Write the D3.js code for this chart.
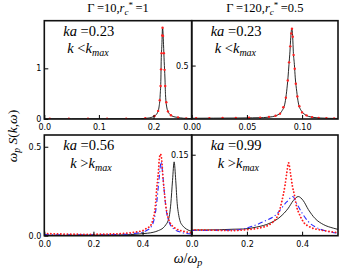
<!DOCTYPE html>
<html>
<head>
<meta charset="utf-8">
<script src="https://cdn.jsdelivr.net/npm/d3@7"></script>
<style>
  body { margin: 0; background: #fff; }
  .tick text { font-family: "DejaVu Sans", sans-serif; font-size: 8px; fill: #000; }
  .math { font-family: "Liberation Serif", "DejaVu Serif", serif; fill: #000; }
</style>
</head>
<body>
<svg id="chart" width="341" height="271"></svg>
<script>
// ---- data ----
// top left: ka=0.23, Gamma=10
let tlX = [0, 0.05, 0.1, 0.15, 0.1756, 0.19, 0.197, 0.201, 0.205, 0.2075, 0.2099, 0.2123, 0.2136, 0.2141, 0.2154, 0.2166,
           0.2184, 0.2196, 0.221, 0.222, 0.2246, 0.2275, 0.2306, 0.236, 0.243, 0.255, 0.27];
let tlY = [0.004, 0.004, 0.005, 0.006, 0.008, 0.018, 0.034, 0.055, 0.085, 0.13, 0.217, 0.48, 0.81, 1.14, 1.466, 1.815,
           1.466, 1.14, 0.81, 0.48, 0.217, 0.13, 0.085, 0.05, 0.034, 0.015, 0.008];
let tlDotX = [0.01, 0.045, 0.08, 0.115, 0.15, 0.185, 0.202, 0.2085, 0.2115, 0.213, 0.2139, 0.2148, 0.216, 0.2166,
              0.2175, 0.219, 0.2203, 0.2215, 0.2235, 0.2265, 0.232, 0.245, 0.26];
let tlDotY = [0.004, 0.004, 0.005, 0.006, 0.006, 0.015, 0.06, 0.16, 0.37, 0.65, 0.98, 1.3, 1.65, 1.8,
              1.64, 1.3, 0.97, 0.65, 0.33, 0.15, 0.075, 0.03, 0.012];

// top right: ka=0.23, Gamma=120
let trX = [0, 0.02, 0.04, 0.055, 0.0649, 0.0705, 0.0755, 0.079, 0.0815, 0.0845, 0.086, 0.0872, 0.0881, 0.089, 0.0897, 0.0906,
           0.0915, 0.092, 0.093, 0.0938, 0.0951, 0.0966, 0.0996, 0.1025, 0.1056, 0.116, 0.125, 0.1325];
let trY = [0.007, 0.008, 0.009, 0.011, 0.013, 0.018, 0.028, 0.045, 0.072, 0.15, 0.26, 0.385, 0.51, 0.635, 0.76, 0.847,
           0.76, 0.635, 0.51, 0.385, 0.26, 0.15, 0.072, 0.042, 0.025, 0.0094, 0.006, 0.005];
let trDotX = [0.004, 0.016, 0.028, 0.04, 0.052, 0.062, 0.07, 0.076, 0.08, 0.083, 0.0853, 0.087, 0.0882, 0.0893, 0.0902, 0.0908,
              0.0915, 0.0923, 0.0933, 0.0943, 0.0957, 0.0975, 0.1, 0.104, 0.109, 0.115, 0.122, 0.129];
let trDotY = [0.008, 0.008, 0.009, 0.009, 0.011, 0.013, 0.02, 0.03, 0.05, 0.11, 0.2, 0.36, 0.53, 0.68, 0.8, 0.845,
              0.77, 0.6, 0.47, 0.33, 0.21, 0.12, 0.062, 0.034, 0.018, 0.01, 0.007, 0.006];

// bottom left: ka=0.56
let blBlackX = [0, 0.1, 0.2, 0.3, 0.35, 0.389, 0.42, 0.443, 0.465, 0.484, 0.495, 0.504, 0.51, 0.515, 0.522, 0.5285,
                0.535, 0.541, 0.546, 0.552, 0.562, 0.572, 0.585, 0.6];
let blBlackY = [0.002, 0.002, 0.003, 0.004, 0.006, 0.01, 0.014, 0.019, 0.029, 0.044, 0.062, 0.085, 0.12, 0.18, 0.311, 0.415,
                0.311, 0.18, 0.125, 0.085, 0.058, 0.044, 0.032, 0.025];
let blRedX = [0, 0.05, 0.1, 0.15, 0.2, 0.25, 0.3, 0.35, 0.38, 0.4, 0.415, 0.4325, 0.443, 0.45, 0.454, 0.457, 0.461, 0.465, 0.4675,
              0.473, 0.478, 0.481, 0.484, 0.488, 0.4935, 0.5, 0.511, 0.531, 0.565, 0.6];
let blRedY = [0.012, 0.01, 0.009, 0.008, 0.008, 0.009, 0.011, 0.016, 0.022, 0.028, 0.04, 0.057, 0.095, 0.142, 0.198, 0.255, 0.311, 0.368, 0.425,
              0.459, 0.425, 0.368, 0.311, 0.255, 0.18, 0.123, 0.076, 0.044, 0.025, 0.017];
let blBlueX = [0, 0.1, 0.2, 0.3, 0.35, 0.4, 0.42, 0.435, 0.445, 0.452, 0.458, 0.463, 0.468, 0.4757,
               0.481, 0.485, 0.489, 0.494, 0.5, 0.51, 0.53, 0.56, 0.6];
let blBlueY = [0.006, 0.005, 0.005, 0.007, 0.011, 0.02, 0.032, 0.05, 0.08, 0.125, 0.19, 0.26, 0.33, 0.415,
               0.36, 0.3, 0.24, 0.17, 0.115, 0.07, 0.035, 0.018, 0.01];

// bottom right: ka=0.99
let brBlackX = [0, 0.05, 0.1, 0.15, 0.187, 0.2355, 0.284, 0.32, 0.35, 0.368, 0.386, 0.404, 0.4225, 0.447, 0.477, 0.513, 0.53];
let brBlackY = [0.0105, 0.0107, 0.011, 0.012, 0.0124, 0.016, 0.0234, 0.0346, 0.051, 0.065, 0.0725, 0.065, 0.0485, 0.0318, 0.0207, 0.014, 0.0117];
let brRedX = [0, 0.05, 0.1, 0.139, 0.17, 0.199, 0.23, 0.26, 0.28, 0.296, 0.306, 0.314, 0.322, 0.332, 0.338, 0.344, 0.351,
              0.358, 0.3645, 0.372, 0.38, 0.39, 0.404, 0.429, 0.465, 0.495, 0.53];
let brRedY = [0.0107, 0.0105, 0.01, 0.0095, 0.01, 0.011, 0.013, 0.016, 0.02, 0.026, 0.032, 0.04, 0.054, 0.0764, 0.093, 0.115, 0.135,
              0.115, 0.093, 0.076, 0.054, 0.04, 0.026, 0.016, 0.0107, 0.008, 0.0055];
let brBlueX = [0, 0.05, 0.1, 0.163, 0.211, 0.26, 0.308, 0.344, 0.366, 0.38, 0.3986, 0.4225, 0.453, 0.489, 0.525, 0.53];
let brBlueY = [0.0095, 0.0097, 0.01, 0.0107, 0.016, 0.026, 0.04, 0.0625, 0.0725, 0.06, 0.043, 0.026, 0.015, 0.0084, 0.005, 0.0048];

// tick values
let tlXTicks = [0, 0.1, 0.2], tlYTicks = [0, 1];
let trXTicks = [0, 0.05, 0.1], trYTicks = [0.5];
let blXTicks = [0, 0.2, 0.4], blYTicks = [0, 0.5];
let brXTicks = [0, 0.2, 0.4], brYTicks = [0.15];

let kaLabels = ["0.23", "0.23", "0.56", "0.99"];
let kSigns = ["<", "<", ">", ">"];

// ---- layout ----
let svg = d3.select("#chart");
let colL = [44.3, 191.7], colR = [191.7, 338];
let rowT = [20.7, 135], rowB = [119, 235.7];

let panels = [
    {c: 0, r: 0, xd: [0, 0.27], yd: [0, 1.94], xt: tlXTicks, xf: ".1f", yt: tlYTicks, yf: "d",
     lines: [{x: tlX, y: tlY, k: "black"}], dots: {x: tlDotX, y: tlDotY}},
    {c: 1, r: 0, xd: [0, 0.1325], yd: [0, 0.92], xt: trXTicks, xf: ".2f", yt: trYTicks, yf: ".1f",
     lines: [{x: trX, y: trY, k: "black"}], dots: {x: trDotX, y: trDotY}},
    {c: 0, r: 1, xd: [0, 0.6], yd: [0, 0.566], xt: blXTicks, xf: ".1f", yt: blYTicks, yf: ".1f",
     lines: [{x: blBlackX, y: blBlackY, k: "black"}, {x: blBlueX, y: blBlueY, k: "blue"}, {x: blRedX, y: blRedY, k: "red"}]},
    {c: 1, r: 1, xd: [0, 0.53], yd: [0, 0.1865], xt: brXTicks, xf: ".1f", yt: brYTicks, yf: ".2f",
     lines: [{x: brBlackX, y: brBlackY, k: "black"}, {x: brBlueX, y: brBlueY, k: "blue"}, {x: brRedX, y: brRedY, k: "red"}]}
];

panels.forEach((p, i) => {
    let x0 = colL[p.c], x1 = colR[p.c], y0 = rowT[p.r], y1 = rowB[p.r];
    let xs = d3.scaleLinear().domain(p.xd).range([x0, x1]);
    let ys = d3.scaleLinear().domain(p.yd).range([y1, y0]);

    svg.append("clipPath").attr("id", "clip" + i)
        .append("rect").attr("x", x0).attr("y", y0).attr("width", x1 - x0).attr("height", y1 - y0);

    let g = svg.append("g").attr("clip-path", `url(#clip${i})`);

    p.lines.forEach(s => {
        let pts = d3.zip(s.x, s.y);
        let line = d3.line().x(d => xs(d[0])).y(d => ys(d[1])).curve(d3.curveMonotoneX);
        let path = g.append("path").datum(pts).attr("d", line).attr("fill", "none");
        if (s.k === "black") path.attr("stroke", "#111").attr("stroke-width", 0.9);
        if (s.k === "blue") path.attr("stroke", "#2a2aff").attr("stroke-width", 1.1).attr("stroke-dasharray", "5,2.5,1.2,2.5");
        if (s.k === "red") path.attr("stroke", "#ff1a1a").attr("stroke-width", 1.8).attr("stroke-linecap", "round")
            .attr("stroke-dasharray", "0.1,3.2");
    });

    if (p.dots) {
        g.selectAll("circle.dot").data(d3.zip(p.dots.x, p.dots.y)).enter().append("circle")
            .attr("class", "dot")
            .attr("cx", d => xs(d[0])).attr("cy", d => ys(d[1])).attr("r", 1.2)
            .attr("fill", "#ff2020");
    }

    // axes with inward ticks
    let ax = svg.append("g").attr("transform", `translate(0,${y1})`)
        .call(d3.axisBottom(xs).tickValues(p.xt).tickFormat(d3.format(p.xf))
            .tickSizeInner(-4).tickSizeOuter(0).tickPadding(5.5));
    let ay = svg.append("g").attr("transform", `translate(${x0},0)`)
        .call(d3.axisLeft(ys).tickValues(p.yt).tickFormat(d3.format(p.yf))
            .tickSizeInner(-4).tickSizeOuter(0).tickPadding(3));
    [ax, ay].forEach(a => {
        a.select(".domain").remove();
        a.attr("font-family", null).attr("font-size", null);
        a.selectAll(".tick line").attr("stroke", "#000");
    });

    svg.append("rect").attr("x", x0).attr("y", y0).attr("width", x1 - x0).attr("height", y1 - y0)
        .attr("fill", "none").attr("stroke", "#111").attr("stroke-width", 1.6);

    // ka / k annotation
    let t1 = svg.append("text").attr("class", "math").attr("font-size", 14.5)
        .attr("x", x0 + 19).attr("y", y0 + (p.r ? 15 : 15.5));
    t1.append("tspan").attr("font-style", "italic").text("ka");
    t1.append("tspan").text(" =" + kaLabels[i]);

    let t2 = svg.append("text").attr("class", "math").attr("font-size", 14.5)
        .attr("x", x0 + (p.r ? 26 : 23)).attr("y", y0 + (p.r ? 33 : 32.5));
    t2.append("tspan").attr("font-style", "italic").text("k");
    t2.append("tspan").text(" " + kSigns[i]);
    t2.append("tspan").attr("font-style", "italic").text("k");
    t2.append("tspan").attr("font-style", "italic").attr("font-size", 10).attr("dy", 3).text("max");
});

// column titles
let titleG = [["10", "1"], ["120", "0.5"]];
titleG.forEach((t, i) => {
    let cx = (colL[i] + colR[i]) / 2;
    let tt = svg.append("text").attr("class", "math").attr("font-size", 12.5)
        .attr("x", cx).attr("y", 12).attr("text-anchor", "middle");
    tt.append("tspan").text("\u0393\u2009=" + t[0] + ",");
    tt.append("tspan").attr("font-style", "italic").text("r");
    tt.append("tspan").attr("font-style", "italic").attr("font-size", 9).attr("dy", 2.5).text("c");
    tt.append("tspan").attr("font-size", 9).attr("dy", -7).text("*");
    tt.append("tspan").attr("dy", 4.5).text("\u2009=" + t[1]);
});

// axis labels
let xl = svg.append("text").attr("class", "math").attr("font-size", 14)
    .attr("x", 188).attr("y", 263).attr("text-anchor", "middle");
xl.append("tspan").attr("font-style", "italic").text("\u03c9");
xl.append("tspan").text("/");
xl.append("tspan").attr("font-style", "italic").text("\u03c9");
xl.append("tspan").attr("font-style", "italic").attr("font-size", 10).attr("dy", 3).text("p");

let yl = svg.append("text").attr("class", "math").attr("font-size", 13.5)
    .attr("transform", "translate(17,136) rotate(-90)").attr("text-anchor", "middle");
yl.append("tspan").attr("font-style", "italic").text("\u03c9");
yl.append("tspan").attr("font-style", "italic").attr("font-size", 9.5).attr("dy", 3).text("p");
yl.append("tspan").attr("font-style", "italic").attr("dy", -3).text(" S");
yl.append("tspan").text("(");
yl.append("tspan").attr("font-style", "italic").text("k");
yl.append("tspan").text(",");
yl.append("tspan").attr("font-style", "italic").text("\u03c9");
yl.append("tspan").text(")");
</script>
</body>
</html>
